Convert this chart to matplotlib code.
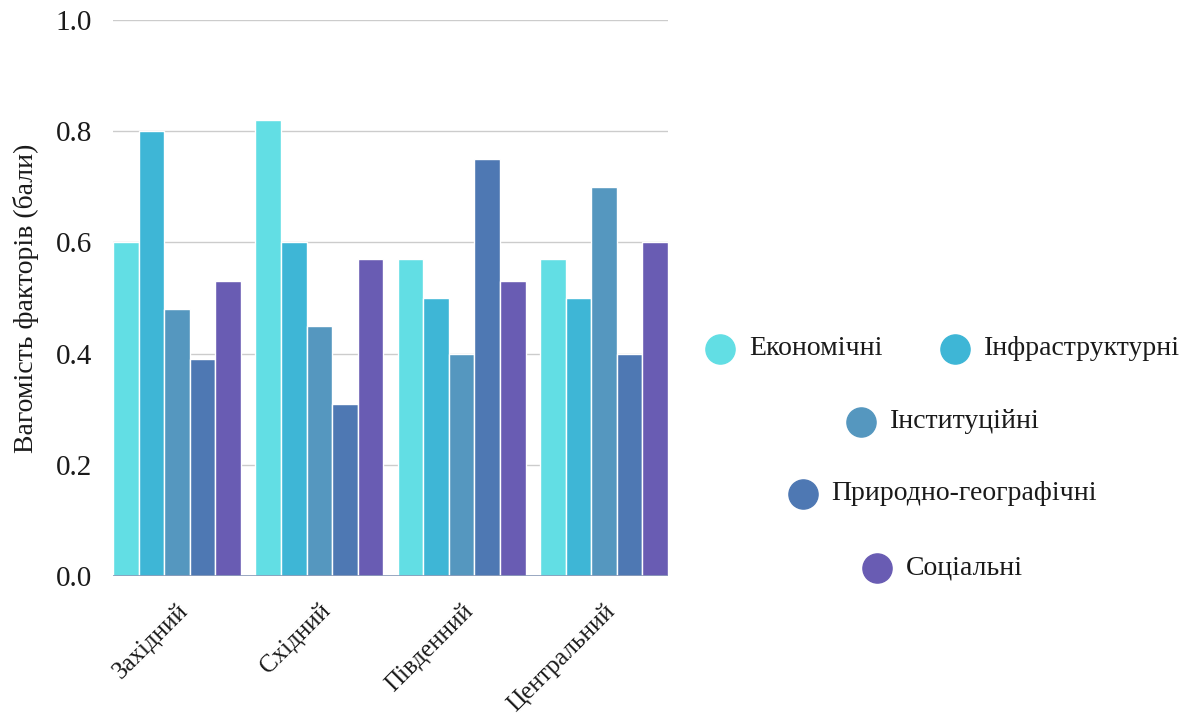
import numpy as np
import matplotlib.pyplot as plt
from matplotlib.lines import Line2D

plt.rcParams['font.family'] = ['Liberation Serif', 'DejaVu Serif']

regions = ['Західний', 'Східний', 'Південний', 'Центральний']
factors = ['Економічні', 'Інфраструктурні', 'Інституційні',
           'Природно-географічні', 'Соціальні']
ekonomichni = [0.60, 0.82, 0.57, 0.57]
infrastrukturni = [0.80, 0.60, 0.50, 0.50]
instytutsiini = [0.48, 0.45, 0.40, 0.70]
pryrodni = [0.39, 0.31, 0.75, 0.40]
sotsialni = [0.53, 0.57, 0.53, 0.60]
series = [ekonomichni, infrastrukturni, instytutsiini, pryrodni, sotsialni]
colors = ['#62DEE4', '#3EB6D6', '#5597BF', '#4E78B3', '#695CB3']
yticks = [0.0, 0.2, 0.4, 0.6, 0.8, 1.0]

fig = plt.figure(figsize=(11.93, 7.22), dpi=100)
ax = fig.add_axes([113 / 1193, 1 - 576 / 722, 555 / 1193, 556 / 722])

x = np.arange(len(regions))
w = 0.9 / len(series)
for i, (vals, c) in enumerate(zip(series, colors)):
    ax.bar(x - 0.45 + w * (i + 0.5), vals, width=w, color=c,
           edgecolor='white', linewidth=1.0, zorder=2)

ax.set_xlim(-0.45, len(regions) - 0.55)
ax.set_ylim(0, 1.0)
ax.set_yticks(yticks)
ax.set_yticklabels(['%.1f' % t for t in yticks], fontsize=21, color='#1a1a1a')
ax.set_xticks(x)
ax.set_xticklabels(regions, fontsize=18, rotation=45, ha='right',
                   rotation_mode='anchor', color='#1a1a1a')
ax.tick_params(axis='y', length=0, pad=15)
ax.tick_params(axis='x', length=0, pad=17)
ax.grid(axis='y', color='#cccccc', linewidth=1, zorder=0)
for s in ax.spines.values():
    s.set_visible(False)
ax.axhline(0, color='#8a9ab8', linewidth=1.2, zorder=3)
ax.set_ylabel('Вагомість факторів (бали)', fontsize=20, color='#1a1a1a', labelpad=12)

# legend: two items on the first row, then one per row, centred
rows = [[0, 1], [2], [3], [4]]
row_y = [349, 422, 494, 568]
cx = 943
gap = 58
fig.canvas.draw()
for r, yy in zip(rows, row_y):
    widths = []
    for k in r:
        t = fig.text(0, 0, factors[k], fontsize=20)
        widths.append(t.get_window_extent(fig.canvas.get_renderer()).width)
        t.remove()
    item_w = [29 + wd for wd in widths]
    total = sum(item_w) + 14 + (gap + 14) * (len(r) - 1)
    xpos = cx - total / 2 + 14
    for k, wd in zip(r, widths):
        fig.add_artist(Line2D([xpos / 1193], [1 - yy / 722],
                              marker='o', markersize=21, color=colors[k],
                              linestyle='none', transform=fig.transFigure))
        fig.text((xpos + 29) / 1193, 1 - yy / 722, factors[k], fontsize=20,
                 va='center', ha='left', color='#1a1a1a')
        xpos += 29 + wd + gap + 14

fig.savefig('out.png', dpi=100)
